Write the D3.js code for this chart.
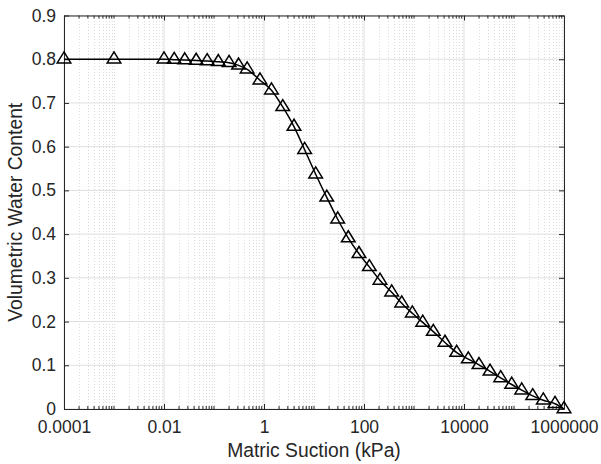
<!DOCTYPE html>
<html>
<head>
<meta charset="utf-8">
<script src="https://cdn.jsdelivr.net/npm/d3@7"></script>
<style>
  body { margin: 0; background: #fff; }
  svg { display: block; }
  text { font-family: "Liberation Sans", Arial, sans-serif; fill: #262626; }
</style>
</head>
<body>
<svg id="chart" width="601" height="464"></svg>
<script>
// matric suction (kPa) and volumetric water content
const suction = [
  0.0001, 0.001, 0.01, 0.016, 0.026, 0.044, 0.073, 0.122, 0.2, 0.31,
  0.46, 0.83, 1.41, 2.37, 3.98, 6.5, 10.8, 18, 29.8, 48.5,
  79.4, 128, 209, 358, 568, 925, 1493, 2432, 4169, 7145,
  12190, 19950, 33110, 54200, 89950, 142600, 236600, 385500, 660700, 1000000,
];
const theta = [
  0.8, 0.8, 0.8, 0.799, 0.798, 0.797, 0.796, 0.794, 0.792, 0.786,
  0.777, 0.752, 0.729, 0.691, 0.646, 0.593, 0.537, 0.484, 0.434, 0.391,
  0.355, 0.325, 0.294, 0.267, 0.242, 0.219, 0.198, 0.177, 0.152, 0.129,
  0.114, 0.101, 0.086, 0.071, 0.056, 0.043, 0.030, 0.020, 0.012, 0,
];
const xTicks = [0.0001, 0.01, 1, 100, 10000, 1000000];
const xTickLabels = ['0.0001', '0.01', '1', '100', '10000', '1000000'];
const yTicks = [0, 0.1, 0.2, 0.3, 0.4, 0.5, 0.6, 0.7, 0.8, 0.9];

const margin = { left: 64, right: 37, top: 15.5, bottom: 55 };
const width = 601;
const height = 464;
const x0 = margin.left;
const x1 = width - margin.right;
const y0 = height - margin.bottom;
const y1 = margin.top;

const x = d3.scaleLog().domain([1e-4, 1e6]).range([x0, x1]);
const y = d3.scaleLinear().domain([0, 0.9]).range([y0, y1]);

const svg = d3.select('#chart');

// every tick position between decades (2..10 x 10^k)
const allTicks = [];
for (let e = -4; e < 6; e += 1) {
  for (let k = 2; k <= 10; k += 1) allTicks.push(k * 10 ** e);
}
const isMajor = (v) => xTicks.some((t) => Math.abs(Math.log10(v) - Math.log10(t)) < 1e-9);
const minorTicks = allTicks.filter((v) => !isMajor(v));

const grid = svg.append('g');
grid.selectAll('.minor')
  .data(minorTicks)
  .join('line')
    .attr('x1', (d) => Math.round(x(d)) + 0.5)
    .attr('x2', (d) => Math.round(x(d)) + 0.5)
    .attr('y1', y0)
    .attr('y2', y1)
    .attr('stroke', '#dcdcdc')
    .attr('stroke-width', 1)
    .attr('stroke-dasharray', '1,2');
grid.selectAll('.majorx')
  .data(xTicks)
  .join('line')
    .attr('x1', (d) => x(d))
    .attr('x2', (d) => x(d))
    .attr('y1', y0)
    .attr('y2', y1)
    .attr('stroke', '#dfdfdf')
    .attr('stroke-width', 1);
grid.selectAll('.majory')
  .data(yTicks)
  .join('line')
    .attr('x1', x0)
    .attr('x2', x1)
    .attr('y1', (d) => y(d))
    .attr('y2', (d) => y(d))
    .attr('stroke', '#dfdfdf')
    .attr('stroke-width', 1);

// axes, ticks pointing inward, box on
const axisColor = '#262626';
const axBottom = svg.append('g').attr('transform', `translate(0,${y0})`)
  .call(d3.axisBottom(x).tickValues(xTicks).tickFormat((d, i) => xTickLabels[i]).tickSizeInner(-5).tickSizeOuter(0).tickPadding(12));
const axTop = svg.append('g').attr('transform', `translate(0,${y1})`)
  .call(d3.axisTop(x).tickValues(xTicks).tickFormat('').tickSizeInner(-5).tickSizeOuter(0));
const axLeft = svg.append('g').attr('transform', `translate(${x0},0)`)
  .call(d3.axisLeft(y).tickValues(yTicks).tickFormat((d) => (d === 0 ? '0' : d3.format('.1f')(d))).tickSizeInner(-5).tickSizeOuter(0).tickPadding(8));
const axRight = svg.append('g').attr('transform', `translate(${x1},0)`)
  .call(d3.axisRight(y).tickValues(yTicks).tickFormat('').tickSizeInner(-5).tickSizeOuter(0));

[axBottom, axTop, axLeft, axRight].forEach((g) => {
  g.select('.domain').attr('stroke', axisColor).attr('stroke-width', 1);
  g.selectAll('.tick line').attr('stroke', axisColor);
  g.selectAll('.tick text').attr('font-size', 17.5).attr('fill', axisColor)
    .attr('font-family', '"Liberation Sans", Arial, sans-serif');
});

// minor ticks on bottom and top
svg.append('g').selectAll('line')
  .data(minorTicks)
  .join('line')
    .attr('x1', (d) => x(d))
    .attr('x2', (d) => x(d))
    .attr('y1', y0)
    .attr('y2', y0 - 3)
    .attr('stroke', axisColor);
svg.append('g').selectAll('line')
  .data(minorTicks)
  .join('line')
    .attr('x1', (d) => x(d))
    .attr('x2', (d) => x(d))
    .attr('y1', y1)
    .attr('y2', y1 + 3)
    .attr('stroke', axisColor);

// curve
const pts = suction.map((s, i) => [s, theta[i]]);
svg.append('path')
  .datum(pts)
  .attr('fill', 'none')
  .attr('stroke', '#000')
  .attr('stroke-width', 1.5)
  .attr('d', d3.line().x((d) => x(d[0])).y((d) => y(d[1])).curve(d3.curveMonotoneX));

// triangle markers, data point at the centroid
svg.append('g').selectAll('path')
  .data(pts)
  .join('path')
    .attr('transform', (d) => `translate(${x(d[0])},${y(d[1])})`)
    .attr('d', 'M0,-7.3L6.8,3.7L-6.8,3.7Z')
    .attr('fill', 'none')
    .attr('stroke', '#000')
    .attr('stroke-width', 1.5);

// axis labels
svg.append('text')
  .attr('x', (x0 + x1) / 2)
  .attr('y', 457)
  .attr('text-anchor', 'middle')
  .attr('font-size', 19.3)
  .text('Matric Suction (kPa)');
svg.append('text')
  .attr('transform', `translate(22,${(y0 + y1) / 2}) rotate(-90)`)
  .attr('text-anchor', 'middle')
  .attr('font-size', 19.3)
  .text('Volumetric Water Content');
</script>
</body>
</html>
